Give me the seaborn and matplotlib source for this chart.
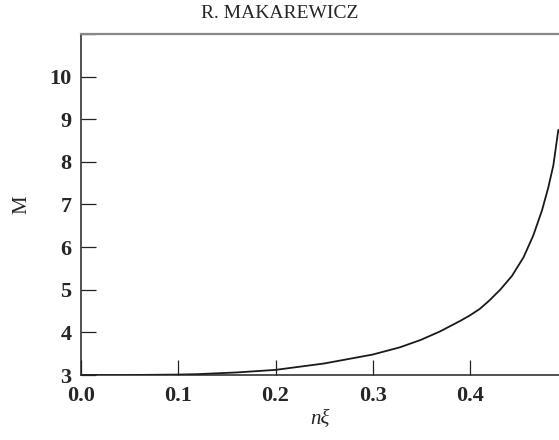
import numpy as np
import pandas as pd
import matplotlib
matplotlib.use("Agg")
import matplotlib.pyplot as plt
import seaborn as sns

# values
n_xi = [0.0, 0.05, 0.10, 0.12, 0.16, 0.20, 0.25, 0.30, 0.328, 0.349, 0.369,
        0.390, 0.400, 0.410, 0.420, 0.431, 0.443, 0.455, 0.465, 0.474, 0.4805,
        0.4857, 0.4908]
m_val = [3.0, 3.0, 3.01, 3.02, 3.06, 3.12, 3.27, 3.48, 3.65, 3.82, 4.02,
         4.27, 4.40, 4.55, 4.75, 5.00, 5.32, 5.76, 6.27, 6.86, 7.40,
         7.92, 8.75]

x_ticks = [0.0, 0.1, 0.2, 0.3, 0.4]
x_labels = ["0.0", "0.1", "0.2", "0.3", "0.4"]
y_ticks = [3, 4, 5, 6, 7, 8, 9, 10, 11]
y_labels = ["3", "4", "5", "6", "7", "8", "9", "10", ""]

df = pd.DataFrame({"nxi": n_xi, "M": m_val})

sns.set_style("ticks")
plt.rcParams["font.family"] = ["Liberation Serif", "DejaVu Serif"]

fig = plt.figure(figsize=(5.59, 4.40), dpi=100)
ax = fig.add_axes([81 / 559, 1 - 375 / 440, 1 - 81 / 559, (375 - 34) / 440])

sns.lineplot(data=df, x="nxi", y="M", color="#1a1a1a", linewidth=1.3, ax=ax)

ax.set_xlim(0, 0.4915)
ax.set_ylim(3, 11)

ax.set_xticks(x_ticks)
ax.set_xticklabels(x_labels, fontsize=16, fontweight="bold")
ax.set_yticks(y_ticks)
ax.set_yticklabels(y_labels, fontsize=16, fontweight="bold")
ax.tick_params(axis="both", direction="in", length=11, width=0.9, color="#222222")
ax.tick_params(axis="x", pad=8)
ax.tick_params(axis="y", pad=7)

for side in ["left", "bottom"]:
    ax.spines[side].set_color("#222222")
    ax.spines[side].set_linewidth(1.1)
ax.spines["right"].set_visible(False)
ax.spines["top"].set_color("#888888")
ax.spines["top"].set_linewidth(1.6)

ax.set_xlabel("nξ", fontsize=15, fontstyle="italic", labelpad=3)
ax.set_ylabel("M", fontsize=15, labelpad=13)

fig.text(0.5, 1 - 14 / 440, "R. MAKAREWICZ", ha="center", va="center", fontsize=14)

fig.savefig("out.png", dpi=100)
